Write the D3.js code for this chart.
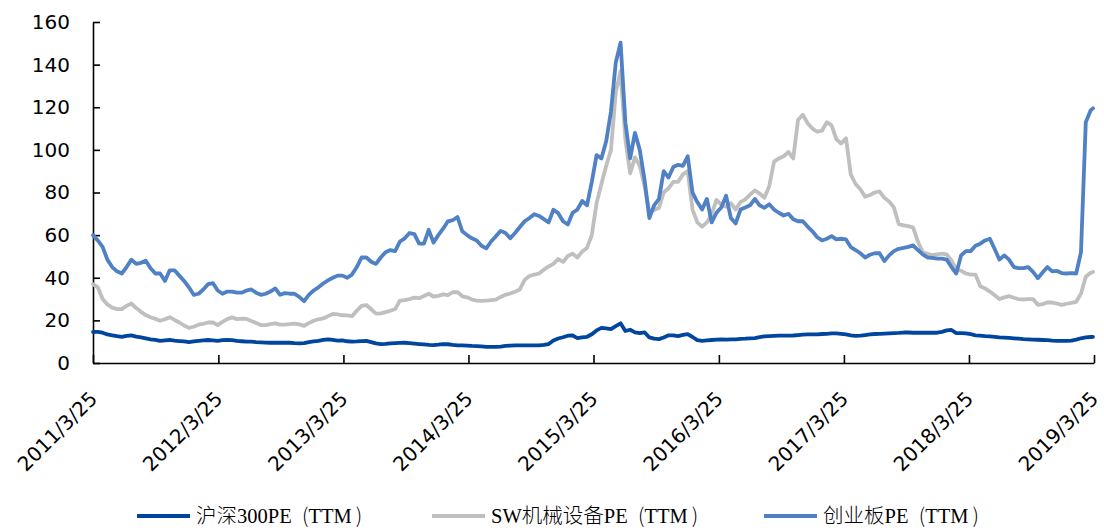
<!DOCTYPE html>
<html>
<head>
<meta charset="utf-8">
<script src="https://cdn.jsdelivr.net/npm/d3@7"></script>
<style>
  html, body { margin: 0; padding: 0; background: #fff; }
  svg { display: block; }
  .legend text { text-spacing-trim: space-all; }
</style>
</head>
<body>
<svg id="chart" width="1104" height="530"></svg>
<script>
// Series names (legend order = drawing order)
const seriesNames = ["沪深300PE（TTM）", "SW机械设备PE（TTM）", "创业板PE（TTM）"];
const seriesColors = ["#00469e", "#bfbfbf", "#4f81c4"];

// Sampling: every two weeks from 2011-03-25, plus the last observation
const startDate = "2011-03-25";
const stepDays = 14;
const lastDate = "2019-03-22";

// X axis ticks
const tickDates = ["2011-03-25","2012-03-25","2013-03-25","2014-03-25","2015-03-25",
                   "2016-03-25","2017-03-25","2018-03-25","2019-03-25"];
const tickLabels = ["2011/3/25","2012/3/25","2013/3/25","2014/3/25","2015/3/25",
                    "2016/3/25","2017/3/25","2018/3/25","2019/3/25"];
const yTicks = [0, 20, 40, 60, 80, 100, 120, 140, 160];

// 沪深300 PE (TTM)
const hs300 = [
14.6,14.6,14.2,13.4,13.0,12.6,12.3,12.7,13.0,12.4,
12.0,11.6,11.1,10.8,10.4,10.6,10.8,10.5,10.3,10.1,
9.8,10.1,10.4,10.6,10.8,10.6,10.4,10.7,10.8,10.7,
10.4,10.2,10.0,10.0,9.8,9.7,9.6,9.5,9.5,9.5,
9.5,9.5,9.3,9.2,9.3,9.8,10.1,10.4,10.8,11.1,
10.8,10.5,10.6,10.2,10.0,10.1,10.3,10.4,9.8,9.2,
8.9,9.0,9.2,9.3,9.4,9.5,9.3,9.1,8.9,8.7,
8.5,8.4,8.6,8.9,8.8,8.5,8.3,8.3,8.2,8.0,
7.9,7.8,7.6,7.6,7.6,7.7,8.0,8.2,8.3,8.3,
8.3,8.3,8.3,8.3,8.5,8.9,10.6,11.5,12.1,12.8,
12.9,11.7,12.0,12.3,13.5,15.3,16.5,16.2,15.9,17.3,
18.6,15.0,15.6,14.4,14.0,14.4,12.0,11.4,11.2,12.0,
13.0,13.0,12.6,13.2,13.5,12.2,10.7,10.4,10.6,10.8,
11.0,11.1,11.0,11.1,11.1,11.3,11.4,11.6,11.7,12.1,
12.5,12.6,12.7,12.8,12.8,12.8,12.9,13.1,13.3,13.4,
13.4,13.4,13.6,13.7,13.9,13.9,13.7,13.4,13.0,12.7,
12.8,13.1,13.4,13.6,13.7,13.8,13.9,14.0,14.1,14.3,
14.3,14.2,14.2,14.2,14.2,14.2,14.2,14.6,15.3,15.5,
14.0,14.0,13.9,13.5,13.0,12.8,12.6,12.5,12.3,12.0,
11.9,11.8,11.6,11.4,11.2,11.1,11.0,10.9,10.8,10.7,
10.5,10.4,10.4,10.4,10.5,11.0,11.6,12.0,12.2,12.3
];

// 申万机械设备 PE (TTM)
const swMachinery = [
37,35.5,30,27.5,26,25.3,25.3,26.8,27.9,25.8,
24,22.5,21.5,20.7,19.8,20.5,21.5,20.2,19,17.6,
16.5,17,18,18.4,19,19,17.8,19.3,20.6,21.4,
20.6,20.8,20.7,19.7,18.8,17.8,17.8,18.2,18.6,18,
18,18.2,18.5,18.1,17.4,18.7,19.8,20.5,20.9,22,
23,22.8,22.4,22.3,22,24.5,26.8,27.2,25.2,23.2,
23.3,23.9,24.5,25.3,29.3,29.5,30,30.7,30.4,31.4,
32.5,31.2,31.5,32.2,31.8,33.2,33.3,31.3,30.8,29.8,
29.3,29.1,29.3,29.5,29.7,31,32,32.6,33.4,34.5,
39,40.8,41.5,42,43.8,45.3,46.5,48.8,47.4,50.2,
51.3,49.5,52.3,54,60,75,84,92.5,100,127,
137,105,89,96.5,92.5,83,70.8,71.8,72.8,80,
82,85,85,88.5,90,72,66,64,66,70,
76.5,74.3,73.3,75,72,75.5,76.8,79,81,79.5,
77.5,83,94.5,96,97,99,96,114,116.5,112.5,
110,108.5,109,113,111.5,105,103,105.5,88.5,84,
81.5,78,78.8,80,80.5,77.5,75.8,73,65.2,64.6,
64.2,63.5,57,52,51.2,50.6,51,51.3,51,48,
44,43.3,42,41.5,41.5,36,35,33.5,31.8,30,
30.8,31.4,30.6,30,29.8,30,30,27.3,27.6,28.5,
28.3,27.9,27.3,27.8,28.2,28.7,32.5,40.5,42.3,42.7
];

// 创业板 PE (TTM)
const chinext = [
60,57.5,54.5,48.5,45,43,42,45,48.5,46.5,
47,48,44.5,42,42,38.5,43.5,43.5,41,38.5,
35.5,32,32.5,34.5,37,37.5,34,32.5,33.5,33.5,
33,33,34,34.5,33,32,32.5,33.5,35,32,
32.8,32.5,32.5,31,29,32,34,35.5,37.3,38.8,
40,41,41,40,41.5,45,49.5,49.5,47.5,46.5,
49.5,52,53,52.5,57,58.5,61,60.5,56,56,
62.5,56.5,60,63,66.5,67,68.5,61.8,60,58.5,
57.5,55,53.8,57,59.5,62,61,58.5,61,63.8,
66.5,68,69.8,69,67.5,66,71.9,70.3,66.5,65,
70.5,72,76,74,85,97.5,96,104,118,141,
150.3,113,96,108,100,86,68,74,77,90,
87,92,93,92.5,97,80,75.5,72,77,66,
70.5,73,78.5,68,65.5,72,73,74,77,74,
72.8,74.5,72,70.5,69.2,70,67.5,66.5,66.5,64,
61.8,59,57.5,58.3,59.5,58,58.3,58,54.4,53,
51.5,49.5,50.8,51.5,51.5,47.8,50.5,52.5,53.6,54,
54.5,55.2,53,51,49.5,49.3,49,49,48.5,45,
42,50.5,52.5,52.5,55,56,57.5,58.3,53.5,48.5,
50.5,48.5,45,44.5,44.5,45,42.8,39.8,42.5,45,
43,43.2,42.2,42,42.2,42,52,113,118.5,119.5
];

const parse = d3.timeParse("%Y-%m-%d");
const start = parse(startDate);
const dates = d3.range(hs300.length - 1).map(i => d3.timeDay.offset(start, i * stepDays));
dates.push(parse(lastDate));

const seriesValues = [hs300, swMachinery, chinext];

const svg = d3.select("#chart");
const plotLeft = 93, plotRight = 1094, plotTop = 22, plotBottom = 363;

const x = d3.scaleTime()
  .domain([parse("2011-03-25"), parse("2019-03-25")])
  .range([plotLeft, plotRight]);
const y = d3.scaleLinear().domain([0, 160]).range([plotBottom, plotTop]);

const axisFont = "'DejaVu Sans', Verdana, sans-serif";

// Y axis
const yAxis = svg.append("g")
  .attr("transform", `translate(${plotLeft},0)`)
  .call(d3.axisLeft(y).tickValues(yTicks).tickSizeInner(-7).tickSizeOuter(0).tickPadding(23));
yAxis.select(".domain").attr("stroke", "#000").attr("stroke-width", 1.6);
yAxis.selectAll(".tick line").attr("stroke", "#000").attr("stroke-width", 1.6);
yAxis.selectAll(".tick text")
  .attr("font-family", axisFont).attr("font-size", 20).attr("fill", "#000");

// X axis
const xTickDates = tickDates.map(parse);
const xAxis = svg.append("g")
  .attr("transform", `translate(0,${plotBottom})`)
  .call(d3.axisBottom(x).tickValues(xTickDates).tickSizeInner(-8).tickSizeOuter(0)
    .tickFormat((d, i) => tickLabels[i]));
xAxis.select(".domain").attr("stroke", "#000").attr("stroke-width", 1.6);
xAxis.selectAll(".tick line").attr("stroke", "#000").attr("stroke-width", 1.6);
xAxis.selectAll(".tick text")
  .attr("font-family", axisFont).attr("font-size", 20).attr("fill", "#000")
  .attr("text-anchor", "end")
  .attr("dy", null)
  .attr("y", null)
  .attr("transform", "translate(5,37) rotate(-45)");

// Lines
const line = d3.line()
  .x((d, i) => x(dates[i]))
  .y(d => y(d));

seriesValues.forEach((vals, k) => {
  svg.append("path")
    .datum(vals)
    .attr("fill", "none")
    .attr("stroke", seriesColors[k])
    .attr("stroke-width", 3.8)
    .attr("stroke-linejoin", "round")
    .attr("stroke-linecap", "round")
    .attr("d", line);
});

// Legend: CJK runs (incl. full-width brackets) in a CJK face, Latin runs in a serif face;
// each full-width bracket gets its own fixed-width slot
const latinFont = "'Liberation Serif', serif";
const cjkFont = "'Noto Sans CJK SC', sans-serif";
const legendX = [137, 432, 764];
const legendY = 516;
const legendFontSize = 20.5;
const legend = svg.append("g").attr("class", "legend");
seriesNames.forEach((name, k) => {
  legend.append("line")
    .attr("x1", legendX[k]).attr("x2", legendX[k] + 53)
    .attr("y1", legendY).attr("y2", legendY)
    .attr("stroke", seriesColors[k]).attr("stroke-width", 3.8);
  const t = legend.append("text")
    .attr("x", legendX[k] + 59).attr("y", legendY + 7)
    .attr("font-size", legendFontSize).attr("fill", "#000");
  name.split(/([（）])/).filter(s => s.length).forEach(part => {
    if (part === "（") {
      t.append("tspan").attr("dx", legendFontSize * 0.5)
        .attr("font-family", cjkFont).attr("font-weight", 300).text("(");
      t.append("tspan").attr("dx", legendFontSize * 0.2).text("");
    } else if (part === "）") {
      t.append("tspan").attr("dx", legendFontSize * 0.2)
        .attr("font-family", cjkFont).attr("font-weight", 300).text(")");
    } else {
      part.split(/([\u3000-\u9fff]+)/).filter(s => s.length).forEach(seg => {
        const isCjk = /[\u3000-\u9fff]/.test(seg);
        t.append("tspan")
          .attr("font-family", isCjk ? cjkFont : latinFont)
          .attr("font-weight", isCjk ? 300 : 400)
          .text(seg);
      });
    }
  });
});
</script>
</body>
</html>
